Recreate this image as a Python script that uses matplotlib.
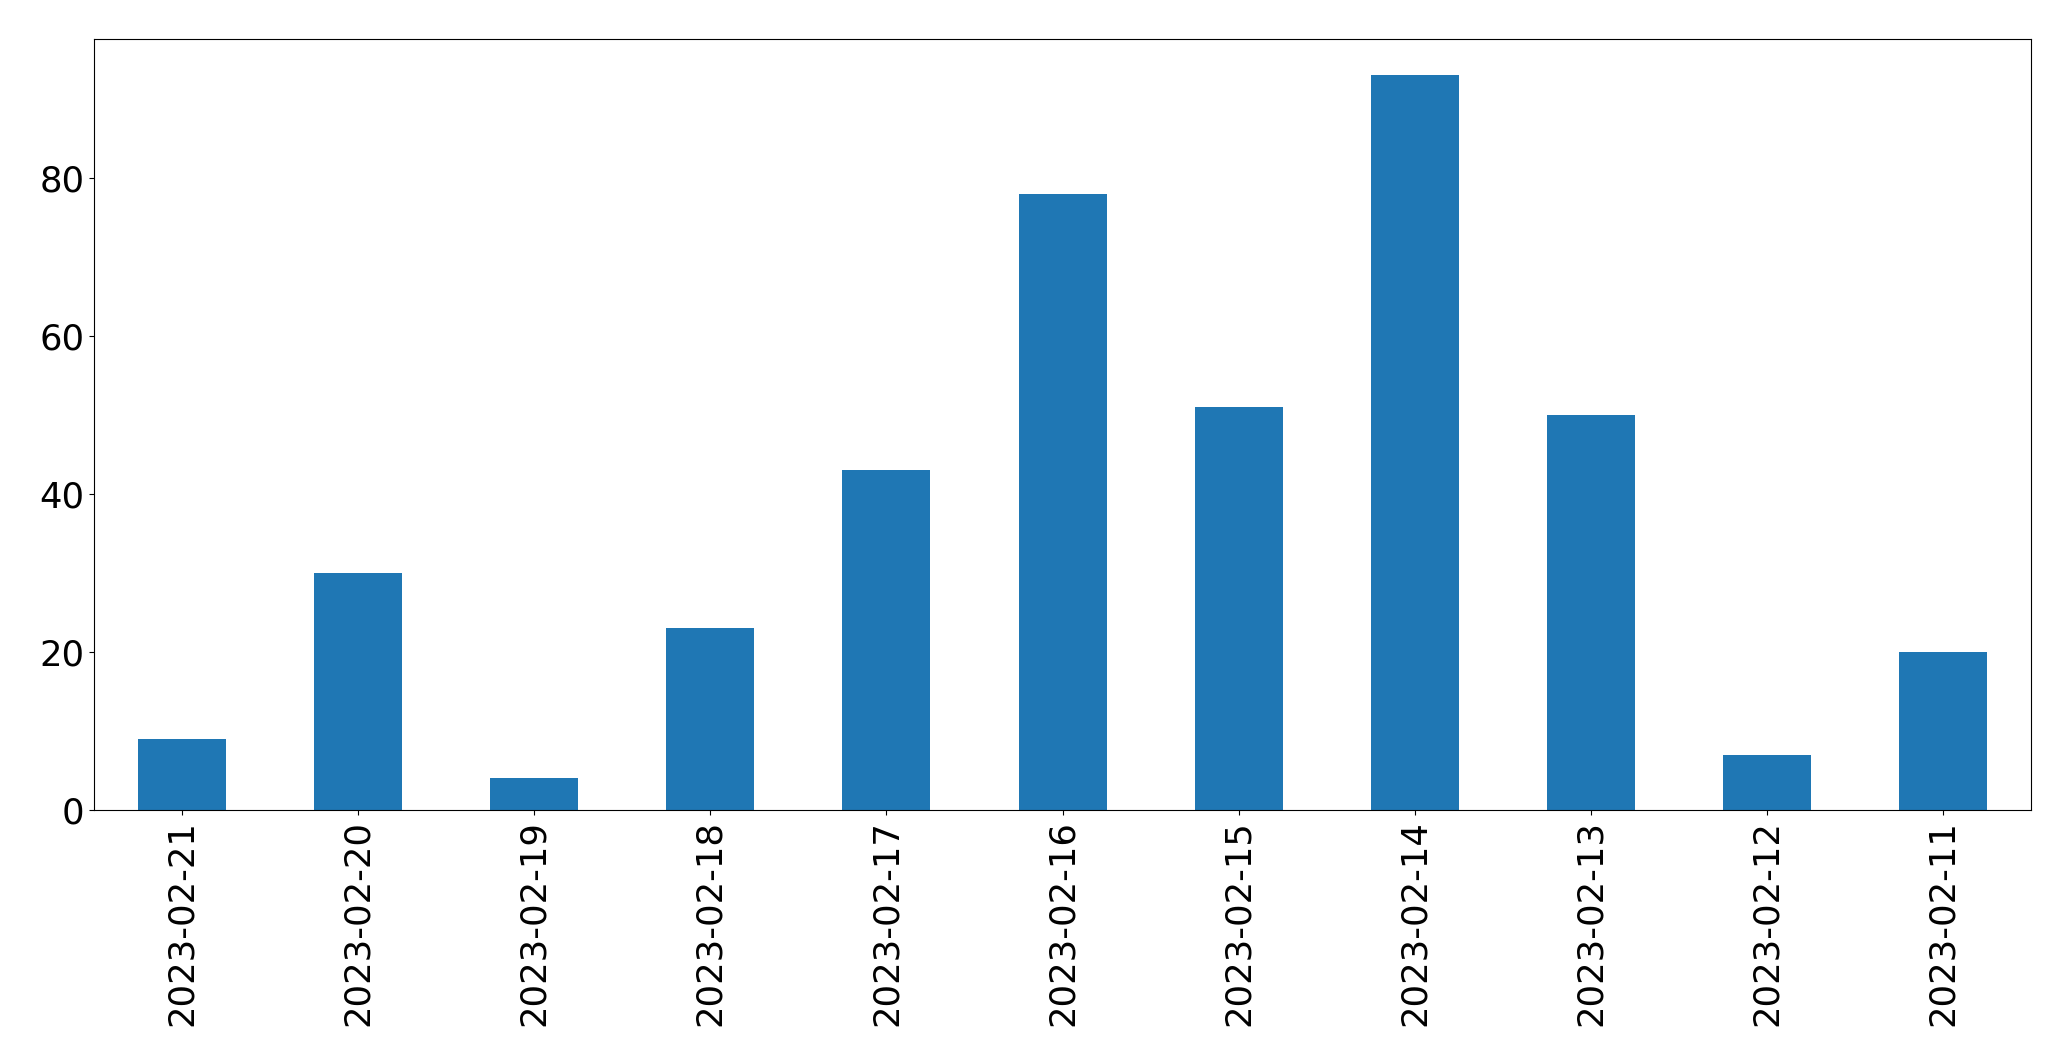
import matplotlib
matplotlib.use('Agg')
import matplotlib.pyplot as plt
import pandas as pd

# 날짜별 건수
dates = ['2023-02-21', '2023-02-20', '2023-02-19', '2023-02-18', '2023-02-17', '2023-02-16',
         '2023-02-15', '2023-02-14', '2023-02-13', '2023-02-12', '2023-02-11']
counts = [9, 30, 4, 23, 43, 78, 51, 93, 50, 7, 20]

s = pd.Series(counts, index=dates)

fig, ax = plt.subplots(figsize=(20.71, 10.61), dpi=100)
s.plot(kind='bar', ax=ax, color='#1f77b4')

ax.tick_params(labelsize=25.5)
plt.xticks(rotation=90)
fig.subplots_adjust(left=0.0454, right=0.9807, top=0.9635, bottom=0.2366)

fig.savefig('out.png', dpi=100)
